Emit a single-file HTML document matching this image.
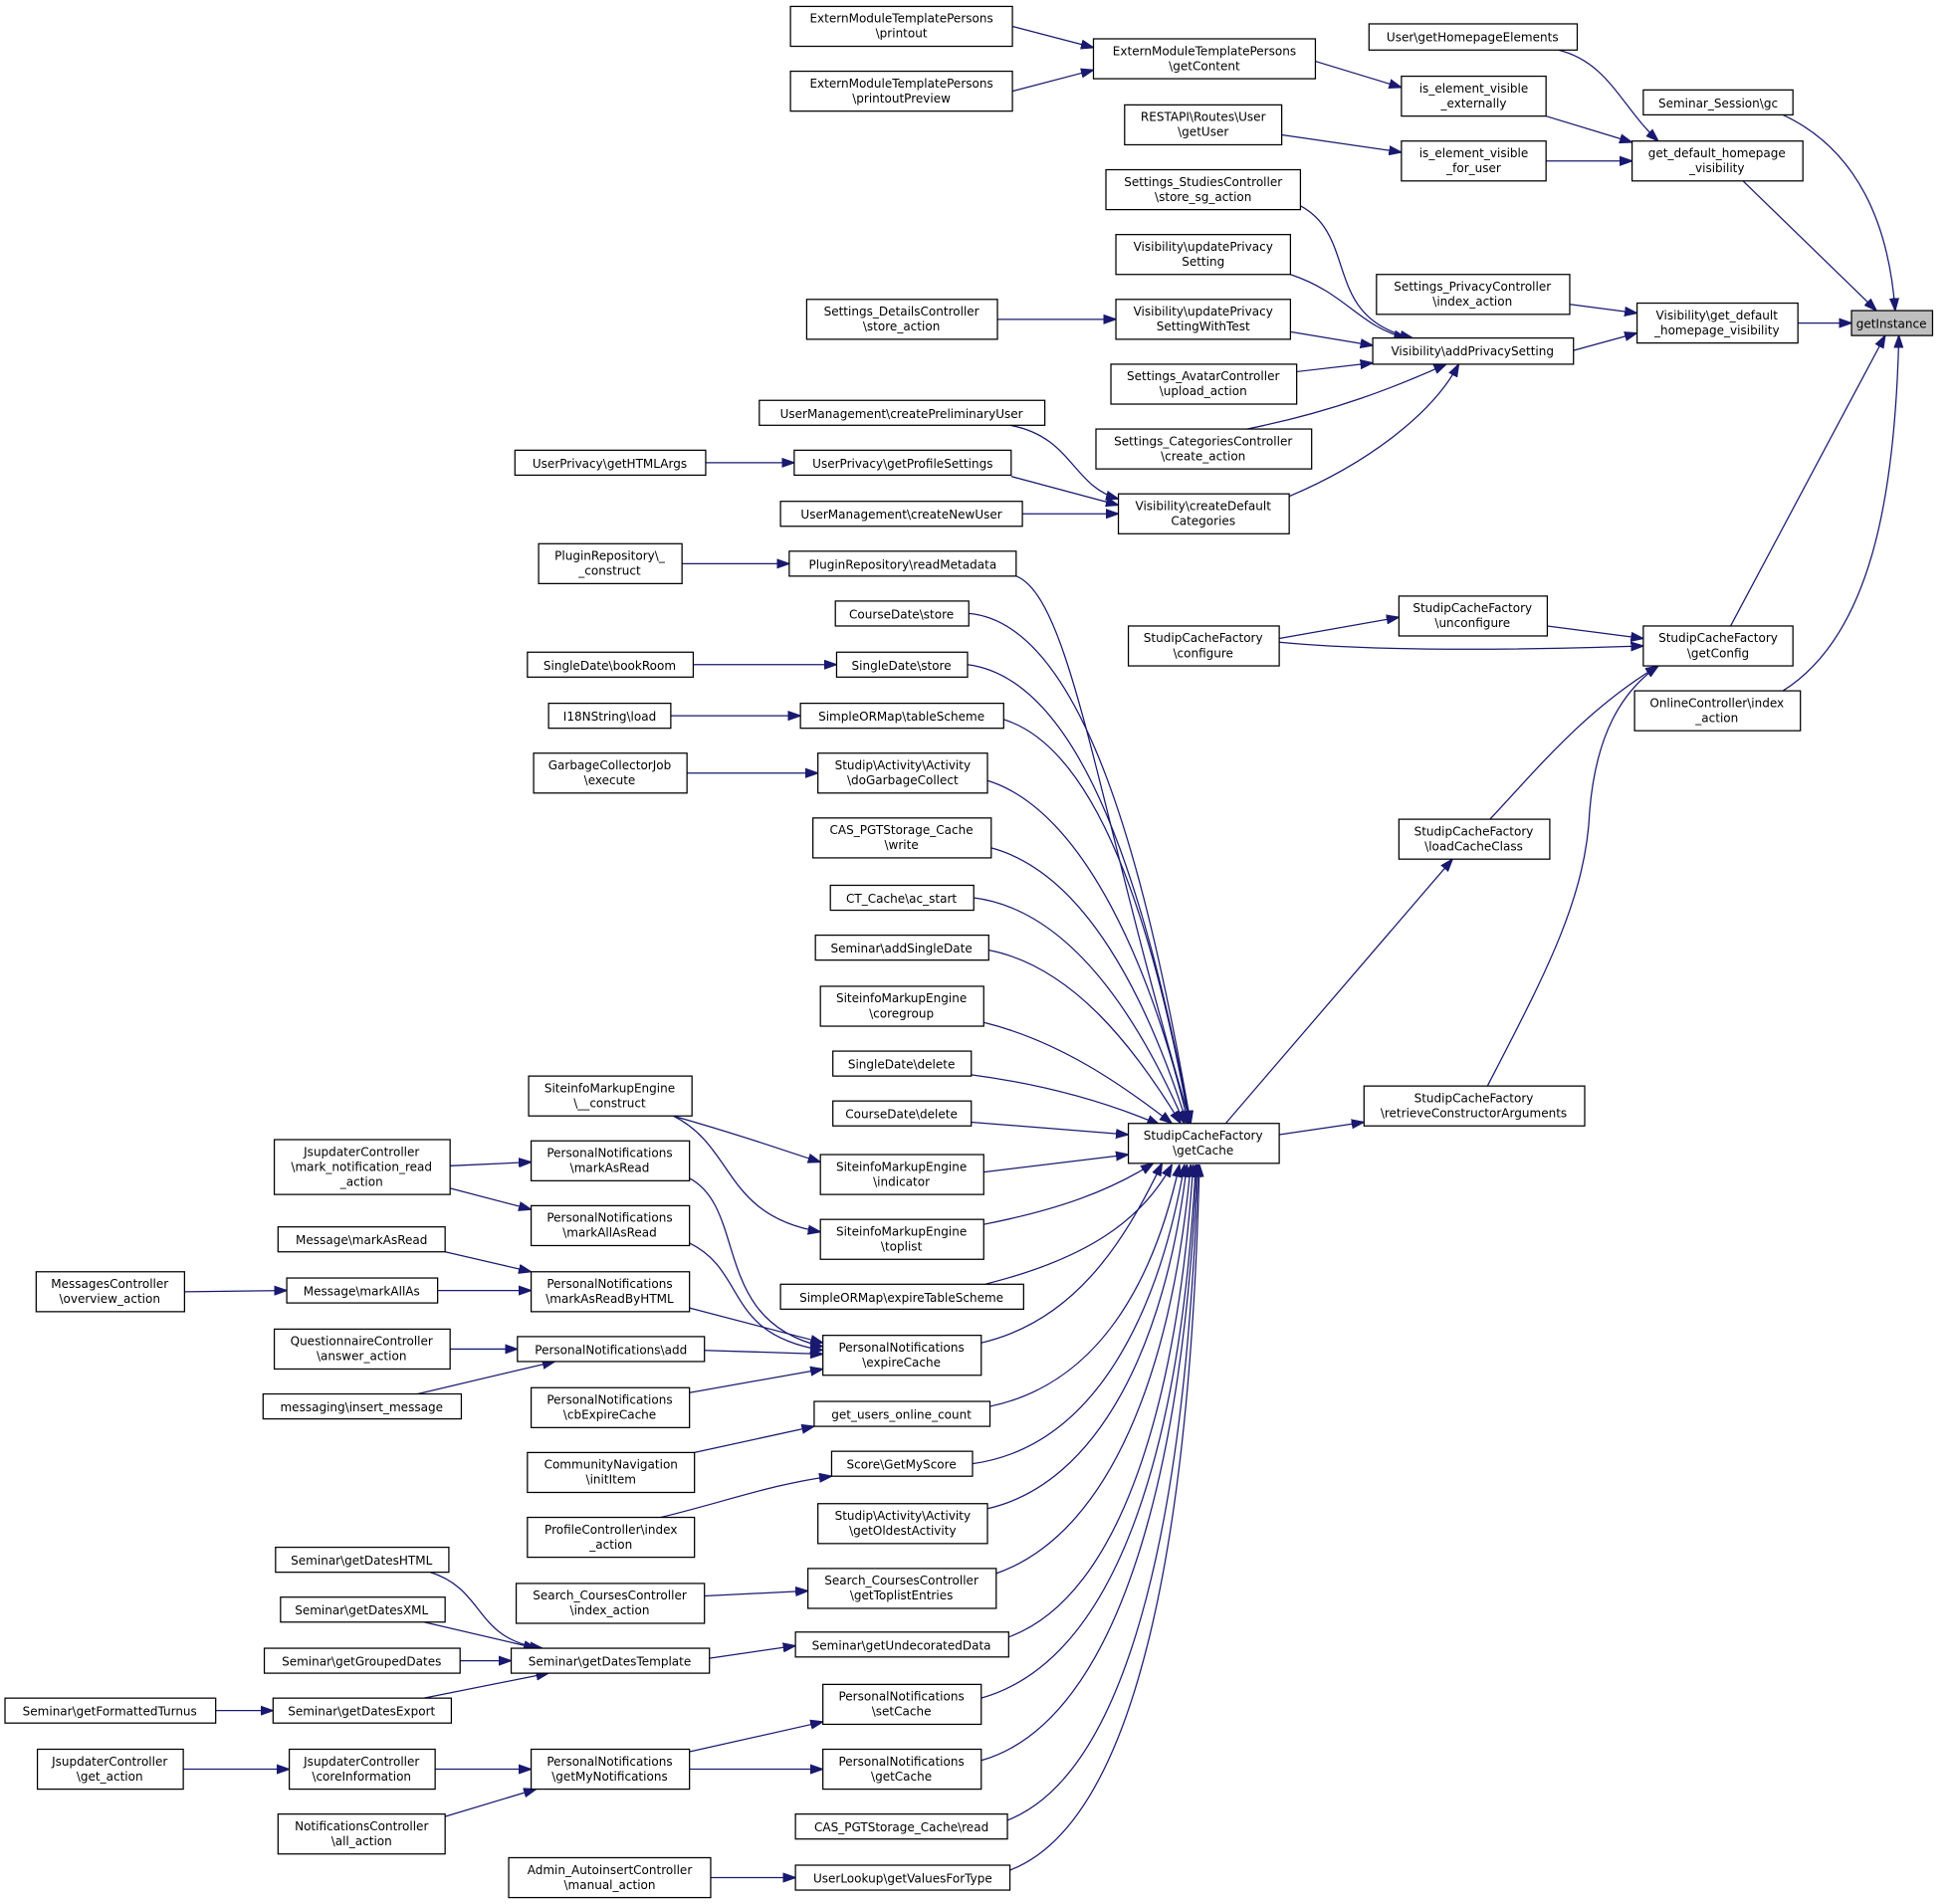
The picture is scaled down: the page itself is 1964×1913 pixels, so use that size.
<!DOCTYPE html>
<html><head><meta charset="utf-8"><style>
html,body{margin:0;padding:0;background:#fff}
svg{display:block}
text{font-family:"DejaVu Sans","Liberation Sans",sans-serif;font-size:9.6px;fill:#000;text-anchor:middle}
rect{fill:#fff;stroke:#000;stroke-width:1}
path{fill:none;stroke:#191970;stroke-width:1}
</style></head><body>
<svg width="1964" height="1913" viewBox="0 0 1568 1527" xmlns="http://www.w3.org/2000/svg">
<defs><marker id="a" markerUnits="userSpaceOnUse" markerWidth="10" markerHeight="8" refX="10" refY="4" orient="auto"><path d="M0,0.5 L10,4 L0,7.5 Z" style="fill:#191970;stroke:#191970"/></marker></defs>
<g marker-end="url(#a)">
<path d="M812,21 L877,38"/>
<path d="M812,73 L877,56"/>
<path d="M1055,49 L1124,70"/>
<path d="M1250,40 C1290,50 1300,85 1330,113"/>
<path d="M1240,93 L1309,114"/>
<path d="M1028,108 L1124,122"/>
<path d="M1240,129 L1309,129"/>
<path d="M1430,92 C1490,120 1515,180 1520,249"/>
<path d="M1398,145 L1505,249"/>
<path d="M1442,259 L1485,259"/>
<path d="M1259,244 L1313,251"/>
<path d="M1262,281 L1313,267"/>
<path d="M1043,165 C1090,190 1060,255 1133,271"/>
<path d="M1035,220 C1080,235 1090,262 1128,271"/>
<path d="M1035,266 L1101,277"/>
<path d="M800,256 L895,256"/>
<path d="M1040,298 L1101,291"/>
<path d="M1000,344 C1070,330 1120,310 1160,292"/>
<path d="M1034,398 C1100,370 1150,330 1170,292"/>
<path d="M810,341 C860,350 860,390 897,400"/>
<path d="M811,382 L897,405"/>
<path d="M566,371 L637,371"/>
<path d="M820,412 L897,412"/>
<path d="M547,452 L633,452"/>
<path d="M815,462 C860,480 880,650 955,901"/>
<path d="M777,492 C870,500 920,700 955,901"/>
<path d="M776,533 C870,545 920,720 955,901"/>
<path d="M805,577 C880,600 925,740 954,901"/>
<path d="M792,626 C870,650 925,780 953,901"/>
<path d="M795,680 C870,700 920,800 952,901"/>
<path d="M781,720 C860,730 915,820 950,901"/>
<path d="M793,762 C860,775 910,840 947,901"/>
<path d="M789,820 C850,835 900,870 940,901"/>
<path d="M779,862 C840,870 890,885 930,902"/>
<path d="M779,900 L905,910"/>
<path d="M556,533 L671,533"/>
<path d="M538,574 L642,574"/>
<path d="M551,620 L656,620"/>
<path d="M1241,502 L1318,512"/>
<path d="M1026,512 L1122,495"/>
<path d="M1026,515 C1100,522 1200,522 1318,518"/>
<path d="M1388,502 L1512,269"/>
<path d="M1430,554 C1500,510 1520,400 1523,269"/>
<path d="M1195,657 C1230,620 1270,570 1330,534"/>
<path d="M1193,871 C1240,780 1272,720 1275,650 C1280,590 1300,555 1330,534"/>
<path d="M983,901 L1165,689"/>
<path d="M1026,910 L1094,900"/>
<path d="M540,895 C600,912 620,920 658,932"/>
<path d="M540,895 C590,920 580,975 658,988"/>
<path d="M789,940 L905,926"/>
<path d="M789,982 C850,970 890,955 925,933"/>
<path d="M361,935 L426,932"/>
<path d="M361,953 L426,970"/>
<path d="M553,945 C600,970 570,1060 660,1080"/>
<path d="M553,997 C600,1020 580,1070 660,1083"/>
<path d="M553,1049 L660,1077"/>
<path d="M357,1004 L426,1020"/>
<path d="M351,1035 L426,1035"/>
<path d="M148,1036 L230,1035"/>
<path d="M361,1082 L415,1082"/>
<path d="M335,1118 L445,1092"/>
<path d="M565,1083 L660,1086"/>
<path d="M553,1117 L660,1098"/>
<path d="M787,1077 C860,1060 900,1000 932,933"/>
<path d="M790,1030 C870,1010 915,980 940,934"/>
<path d="M794,1128 C880,1110 925,1030 946,934"/>
<path d="M780,1174 C880,1160 930,1050 950,934"/>
<path d="M557,1165 L653,1144"/>
<path d="M530,1217 C580,1205 620,1190 667,1184"/>
<path d="M792,1210 C880,1190 935,1080 952,934"/>
<path d="M799,1262 C890,1230 940,1100 955,934"/>
<path d="M565,1280 L648,1276"/>
<path d="M809,1313 C900,1280 945,1120 957,934"/>
<path d="M569,1330 L638,1320"/>
<path d="M345,1261 C390,1275 380,1315 435,1322"/>
<path d="M340,1301 L430,1322"/>
<path d="M369,1332 L410,1332"/>
<path d="M340,1362 L440,1342"/>
<path d="M173,1372 L219,1372"/>
<path d="M787,1362 C900,1330 948,1150 959,934"/>
<path d="M553,1405 L660,1381"/>
<path d="M553,1419 L660,1419"/>
<path d="M349,1419 L426,1419"/>
<path d="M147,1419 L232,1419"/>
<path d="M357,1457 L430,1435"/>
<path d="M787,1412 C900,1380 950,1170 960,934"/>
<path d="M808,1460 C910,1420 952,1200 961,934"/>
<path d="M810,1500 C915,1460 955,1220 962,934"/>
<path d="M570,1506 L638,1506"/>
</g>
<rect x="1485" y="249" width="65" height="20" style="fill:#bfbfbf"/><text x="1517" y="263">getInstance</text>
<rect x="1318" y="72" width="120" height="20"/><text x="1378" y="86">Seminar_Session\gc</text>
<rect x="1309" y="113" width="137" height="32"/><text x="1377" y="126">get_default_homepage</text><text x="1377" y="138">_visibility</text>
<rect x="1313" y="243" width="129" height="32"/><text x="1377" y="256">Visibility\get_default</text><text x="1377" y="268">_homepage_visibility</text>
<rect x="1318" y="502" width="120" height="32"/><text x="1378" y="515">StudipCacheFactory</text><text x="1378" y="527">\getConfig</text>
<rect x="1311" y="554" width="133" height="32"/><text x="1377" y="567">OnlineController\index</text><text x="1377" y="579">_action</text>
<rect x="1098" y="19" width="167" height="21"/><text x="1181" y="33">User\getHomepageElements</text>
<rect x="1124" y="61" width="116" height="32"/><text x="1182" y="74">is_element_visible</text><text x="1182" y="86">_externally</text>
<rect x="1124" y="113" width="116" height="32"/><text x="1182" y="126">is_element_visible</text><text x="1182" y="138">_for_user</text>
<rect x="877" y="31" width="178" height="32"/><text x="966" y="44">ExternModuleTemplatePersons</text><text x="966" y="56">\getContent</text>
<rect x="634" y="5" width="178" height="32"/><text x="723" y="18">ExternModuleTemplatePersons</text><text x="723" y="30">\printout</text>
<rect x="634" y="57" width="178" height="32"/><text x="723" y="70">ExternModuleTemplatePersons</text><text x="723" y="82">\printoutPreview</text>
<rect x="902" y="84" width="126" height="32"/><text x="965" y="97">RESTAPI\Routes\User</text><text x="965" y="109">\getUser</text>
<rect x="887" y="136" width="156" height="32"/><text x="965" y="149">Settings_StudiesController</text><text x="965" y="161">\store_sg_action</text>
<rect x="895" y="188" width="140" height="32"/><text x="965" y="201">Visibility\updatePrivacy</text><text x="965" y="213">Setting</text>
<rect x="1104" y="220" width="155" height="32"/><text x="1181" y="233">Settings_PrivacyController</text><text x="1181" y="245">\index_action</text>
<rect x="895" y="240" width="140" height="32"/><text x="965" y="253">Visibility\updatePrivacy</text><text x="965" y="265">SettingWithTest</text>
<rect x="647" y="240" width="153" height="32"/><text x="723" y="253">Settings_DetailsController</text><text x="723" y="265">\store_action</text>
<rect x="1101" y="271" width="161" height="21"/><text x="1181" y="285">Visibility\addPrivacySetting</text>
<rect x="891" y="292" width="149" height="32"/><text x="965" y="305">Settings_AvatarController</text><text x="965" y="317">\upload_action</text>
<rect x="879" y="344" width="173" height="32"/><text x="965" y="357">Settings_CategoriesController</text><text x="965" y="369">\create_action</text>
<rect x="609" y="321" width="229" height="20"/><text x="723" y="335">UserManagement\createPreliminaryUser</text>
<rect x="637" y="361" width="174" height="20"/><text x="724" y="375">UserPrivacy\getProfileSettings</text>
<rect x="413" y="361" width="153" height="20"/><text x="489" y="375">UserPrivacy\getHTMLArgs</text>
<rect x="626" y="402" width="194" height="20"/><text x="723" y="416">UserManagement\createNewUser</text>
<rect x="897" y="396" width="137" height="32"/><text x="965" y="409">Visibility\createDefault</text><text x="965" y="421">Categories</text>
<rect x="432" y="436" width="115" height="32"/><text x="489" y="449">PluginRepository\_</text><text x="489" y="461">_construct</text>
<rect x="633" y="442" width="182" height="20"/><text x="724" y="456">PluginRepository\readMetadata</text>
<rect x="670" y="482" width="107" height="20"/><text x="723" y="496">CourseDate\store</text>
<rect x="1122" y="478" width="119" height="32"/><text x="1181" y="491">StudipCacheFactory</text><text x="1181" y="503">\unconfigure</text>
<rect x="905" y="502" width="121" height="32"/><text x="965" y="515">StudipCacheFactory</text><text x="965" y="527">\configure</text>
<rect x="423" y="523" width="133" height="20"/><text x="489" y="537">SingleDate\bookRoom</text>
<rect x="671" y="523" width="105" height="20"/><text x="723" y="537">SingleDate\store</text>
<rect x="440" y="564" width="98" height="20"/><text x="489" y="578">I18NString\load</text>
<rect x="642" y="564" width="163" height="20"/><text x="723" y="578">SimpleORMap\tableScheme</text>
<rect x="428" y="604" width="123" height="32"/><text x="489" y="617">GarbageCollectorJob</text><text x="489" y="629">\execute</text>
<rect x="656" y="604" width="136" height="32"/><text x="724" y="617">Studip\Activity\Activity</text><text x="724" y="629">\doGarbageCollect</text>
<rect x="652" y="656" width="143" height="32"/><text x="723" y="669">CAS_PGTStorage_Cache</text><text x="723" y="681">\write</text>
<rect x="666" y="710" width="115" height="20"/><text x="723" y="724">CT_Cache\ac_start</text>
<rect x="654" y="750" width="139" height="20"/><text x="723" y="764">Seminar\addSingleDate</text>
<rect x="658" y="791" width="131" height="32"/><text x="723" y="804">SiteinfoMarkupEngine</text><text x="723" y="816">\coregroup</text>
<rect x="1122" y="657" width="121" height="32"/><text x="1182" y="670">StudipCacheFactory</text><text x="1182" y="682">\loadCacheClass</text>
<rect x="668" y="843" width="111" height="20"/><text x="723" y="857">SingleDate\delete</text>
<rect x="668" y="883" width="111" height="20"/><text x="723" y="897">CourseDate\delete</text>
<rect x="424" y="863" width="131" height="32"/><text x="489" y="876">SiteinfoMarkupEngine</text><text x="489" y="888">\__construct</text>
<rect x="1094" y="871" width="177" height="32"/><text x="1182" y="884">StudipCacheFactory</text><text x="1182" y="896">\retrieveConstructorArguments</text>
<rect x="905" y="901" width="121" height="32"/><text x="965" y="914">StudipCacheFactory</text><text x="965" y="926">\getCache</text>
<rect x="220" y="914" width="141" height="44"/><text x="290" y="927">JsupdaterController</text><text x="290" y="939">\mark_notification_read</text><text x="290" y="951">_action</text>
<rect x="426" y="915" width="127" height="32"/><text x="489" y="928">PersonalNotifications</text><text x="489" y="940">\markAsRead</text>
<rect x="658" y="926" width="131" height="32"/><text x="723" y="939">SiteinfoMarkupEngine</text><text x="723" y="951">\indicator</text>
<rect x="426" y="967" width="127" height="32"/><text x="489" y="980">PersonalNotifications</text><text x="489" y="992">\markAllAsRead</text>
<rect x="658" y="978" width="131" height="32"/><text x="723" y="991">SiteinfoMarkupEngine</text><text x="723" y="1003">\toplist</text>
<rect x="223" y="984" width="134" height="20"/><text x="290" y="998">Message\markAsRead</text>
<rect x="29" y="1020" width="119" height="32"/><text x="88" y="1033">MessagesController</text><text x="88" y="1045">\overview_action</text>
<rect x="230" y="1025" width="121" height="20"/><text x="290" y="1039">Message\markAllAs</text>
<rect x="426" y="1020" width="127" height="32"/><text x="489" y="1033">PersonalNotifications</text><text x="489" y="1045">\markAsReadByHTML</text>
<rect x="626" y="1030" width="195" height="20"/><text x="723" y="1044">SimpleORMap\expireTableScheme</text>
<rect x="220" y="1066" width="141" height="32"/><text x="290" y="1079">QuestionnaireController</text><text x="290" y="1091">\answer_action</text>
<rect x="415" y="1072" width="150" height="20"/><text x="490" y="1086">PersonalNotifications\add</text>
<rect x="660" y="1071" width="127" height="32"/><text x="723" y="1084">PersonalNotifications</text><text x="723" y="1096">\expireCache</text>
<rect x="211" y="1118" width="159" height="20"/><text x="290" y="1132">messaging\insert_message</text>
<rect x="426" y="1113" width="127" height="32"/><text x="489" y="1126">PersonalNotifications</text><text x="489" y="1138">\cbExpireCache</text>
<rect x="653" y="1124" width="141" height="20"/><text x="723" y="1138">get_users_online_count</text>
<rect x="667" y="1164" width="113" height="20"/><text x="723" y="1178">Score\GetMyScore</text>
<rect x="423" y="1165" width="134" height="32"/><text x="490" y="1178">CommunityNavigation</text><text x="490" y="1190">\initItem</text>
<rect x="656" y="1206" width="136" height="32"/><text x="724" y="1219">Studip\Activity\Activity</text><text x="724" y="1231">\getOldestActivity</text>
<rect x="423" y="1217" width="134" height="32"/><text x="490" y="1230">ProfileController\index</text><text x="490" y="1242">_action</text>
<rect x="221" y="1241" width="139" height="20"/><text x="290" y="1255">Seminar\getDatesHTML</text>
<rect x="648" y="1258" width="151" height="32"/><text x="723" y="1271">Search_CoursesController</text><text x="723" y="1283">\getToplistEntries</text>
<rect x="414" y="1270" width="151" height="32"/><text x="489" y="1283">Search_CoursesController</text><text x="489" y="1295">\index_action</text>
<rect x="225" y="1281" width="132" height="20"/><text x="290" y="1295">Seminar\getDatesXML</text>
<rect x="638" y="1309" width="171" height="20"/><text x="723" y="1323">Seminar\getUndecoratedData</text>
<rect x="212" y="1322" width="157" height="20"/><text x="290" y="1336">Seminar\getGroupedDates</text>
<rect x="410" y="1322" width="159" height="20"/><text x="489" y="1336">Seminar\getDatesTemplate</text>
<rect x="4" y="1362" width="169" height="20"/><text x="88" y="1376">Seminar\getFormattedTurnus</text>
<rect x="219" y="1362" width="143" height="20"/><text x="290" y="1376">Seminar\getDatesExport</text>
<rect x="660" y="1351" width="127" height="32"/><text x="723" y="1364">PersonalNotifications</text><text x="723" y="1376">\setCache</text>
<rect x="30" y="1403" width="117" height="32"/><text x="88" y="1416">JsupdaterController</text><text x="88" y="1428">\get_action</text>
<rect x="232" y="1403" width="117" height="32"/><text x="290" y="1416">JsupdaterController</text><text x="290" y="1428">\coreInformation</text>
<rect x="426" y="1403" width="127" height="32"/><text x="489" y="1416">PersonalNotifications</text><text x="489" y="1428">\getMyNotifications</text>
<rect x="660" y="1403" width="127" height="32"/><text x="723" y="1416">PersonalNotifications</text><text x="723" y="1428">\getCache</text>
<rect x="223" y="1455" width="134" height="32"/><text x="290" y="1468">NotificationsController</text><text x="290" y="1480">\all_action</text>
<rect x="638" y="1455" width="170" height="20"/><text x="723" y="1469">CAS_PGTStorage_Cache\read</text>
<rect x="408" y="1490" width="162" height="32"/><text x="489" y="1503">Admin_AutoinsertController</text><text x="489" y="1515">\manual_action</text>
<rect x="638" y="1496" width="172" height="20"/><text x="724" y="1510">UserLookup\getValuesForType</text>
</svg>
</body></html>
